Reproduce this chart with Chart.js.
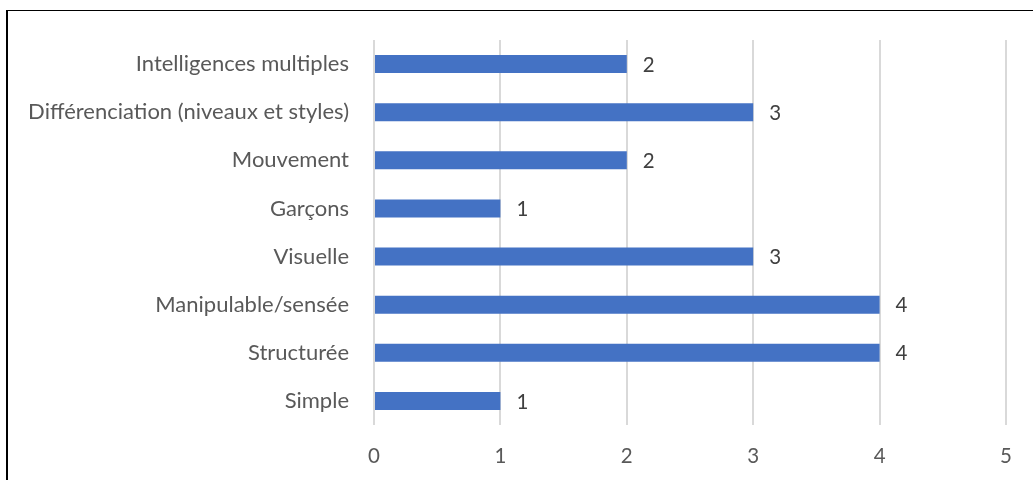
<!DOCTYPE html>
<html>
<head>
<meta charset="utf-8">
<script src="https://cdn.jsdelivr.net/npm/chart.js@4/dist/chart.umd.min.js"></script>
<style>
  html, body { margin: 0; padding: 0; background: #fff; }
  #wrap { position: relative; width: 1033px; height: 480px; overflow: hidden; }
  #frame {
    position: absolute; left: 6px; top: 10px; width: 1100px; height: 500px;
    border-left: 2px solid #000; border-top: 1.5px solid #000;
  }
  canvas { position: absolute; left: 0; top: 0; }
</style>
</head>
<body>
<div id="wrap">
  <div id="frame"></div>
  <canvas id="chart" width="1033" height="480"></canvas>
</div>
<script>
// Categories, top to bottom
const categories = [
  "Intelligences multiples",
  "Différenciation (niveaux et styles)",
  "Mouvement",
  "Garçons",
  "Visuelle",
  "Manipulable/sensée",
  "Structurée",
  "Simple"
];

// Count for each category
const counts = [2, 3, 2, 1, 3, 4, 4, 1];

// Value axis ticks
const xTicks = [0, 1, 2, 3, 4, 5];

const fontFamily = "Lato, 'Open Sans', sans-serif";

// Writes the value just to the right of each bar
const valueLabels = {
  id: "valueLabels",
  afterDatasetsDraw(chart) {
    const ctx = chart.ctx;
    const meta = chart.getDatasetMeta(0);
    ctx.save();
    ctx.font = "20.5px " + fontFamily;
    ctx.fillStyle = "#404040";
    ctx.textAlign = "left";
    ctx.textBaseline = "middle";
    meta.data.forEach((bar, i) => {
      ctx.fillText(String(counts[i]), bar.x + 16, bar.y + 1);
    });
    ctx.restore();
  }
};

const ctx = document.getElementById("chart").getContext("2d");
const chart = new Chart(ctx, {
  type: "bar",
  data: {
    labels: categories,
    datasets: [{
      data: counts,
      backgroundColor: "#4472C4",
      borderWidth: 0,
      barPercentage: 0.75,
      categoryPercentage: 0.5
    }]
  },
  options: {
    indexAxis: "y",
    responsive: false,
    animation: false,
    layout: { padding: { left: 0, right: 27, top: 40, bottom: 0 } },
    plugins: {
      legend: { display: false },
      tooltip: { enabled: false }
    },
    scales: {
      x: {
        min: xTicks[0],
        max: xTicks[xTicks.length - 1],
        afterBuildTicks(axis) {
          axis.ticks = xTicks.map(v => ({ value: v }));
        },
        afterFit(axis) { axis.height = 55; },
        grid: {
          color: "#d9d9d9",
          lineWidth: 2,
          drawTicks: false
        },
        border: { display: false },
        ticks: {
          padding: 19,
          color: "#595959",
          font: { family: fontFamily, size: 20.5 }
        }
      },
      y: {
        afterFit(axis) { axis.width = 374; },
        grid: { display: false },
        border: { display: false },
        ticks: {
          padding: 17,
          color: "#595959",
          font: { family: fontFamily, size: 22 }
        }
      }
    }
  },
  plugins: [valueLabels]
});
</script>
</body>
</html>
